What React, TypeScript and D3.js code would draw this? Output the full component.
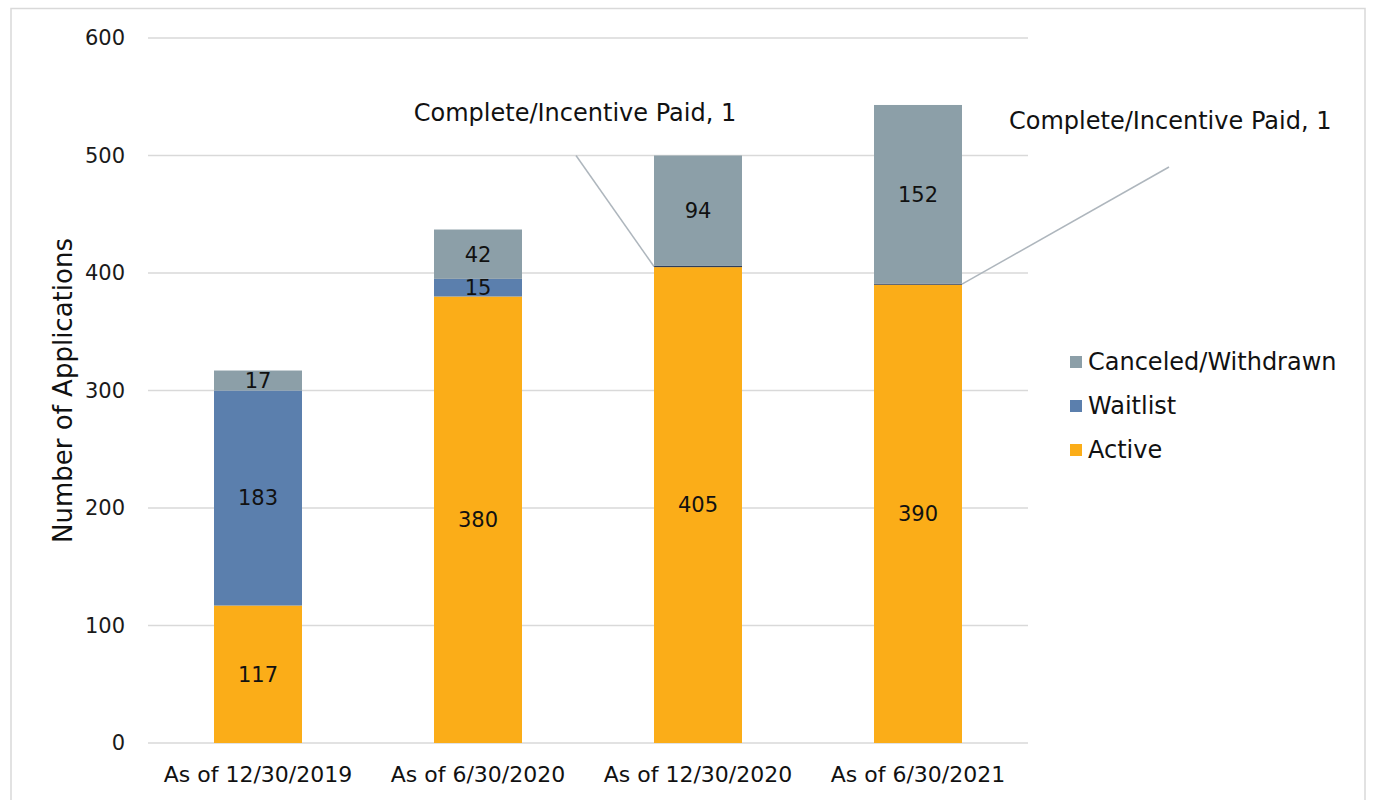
import React from "react";
import * as d3 from "d3";

const categories = ["As of 12/30/2019", "As of 6/30/2020", "As of 12/30/2020", "As of 6/30/2021"];
const active = [117, 380, 405, 390];
const waitlist = [183, 15, 0, 0];
const complete = [0, 0, 1, 1];
const canceled = [17, 42, 94, 152];
const yTicks = [0, 100, 200, 300, 400, 500, 600];

const seriesDefs = [
  { key: "active", name: "Active", values: active, color: "#FBAD18" },
  { key: "waitlist", name: "Waitlist", values: waitlist, color: "#5B7FAD" },
  { key: "complete", name: "Complete/Incentive Paid", values: complete, color: "#2F3E5A" },
  { key: "canceled", name: "Canceled/Withdrawn", values: canceled, color: "#8C9FA8" },
];
const legendOrder = ["canceled", "waitlist", "active"];

const FONT = "'Century Gothic', 'URW Gothic', 'DejaVu Sans', sans-serif";

export default function App() {
  const W = 1374, H = 800;
  const left = 148, right = 1028, top = 38, bottom = 743;
  const x = d3.scaleBand<string>().domain(categories).range([left, right]).paddingInner(0.6).paddingOuter(0.3);
  const y = d3.scaleLinear().domain([0, 600]).range([bottom, top]);

  const table = categories.map((c, i) => {
    const row: any = { cat: c };
    seriesDefs.forEach((s) => (row[s.key] = s.values[i]));
    return row;
  });
  const stacked = d3.stack<any>().keys(seriesDefs.map((s) => s.key))(table);

  const calloutIdx = [2, 3];
  const ci = seriesDefs.findIndex((s) => s.key === "complete");

  return (
    <svg width={W} height={H} style={{ position: "absolute", left: 0, top: 0, background: "#fff" }} fontFamily={FONT}>
      <rect x={11} y={8.5} width={1354} height={800} fill="#fff" stroke="#D9D9D9" strokeWidth={1.5} />
      {yTicks.map((t) => (
        <g key={t}>
          <line x1={left} x2={right} y1={y(t)} y2={y(t)} stroke="#D9D9D9" strokeWidth={1.5} />
          <text x={125} y={y(t)} dy="0.35em" textAnchor="end" fontSize={21} fill="#1a1a1a">{t}</text>
        </g>
      ))}
      {stacked.map((layer, li) => (
        <g key={layer.key}>
          {layer.map((d, i) => {
            const h = y(d[0]) - y(d[1]);
            if (h <= 0) return null;
            return (
              <rect key={i} x={x(categories[i])!} width={x.bandwidth()} y={y(d[1])} height={h}
                fill={seriesDefs[li].color} />
            );
          })}
        </g>
      ))}
      {stacked.map((layer, li) =>
        seriesDefs[li].key === "complete" ? null : (
          <g key={"l" + layer.key}>
            {layer.map((d, i) => {
              const v = d[1] - d[0];
              if (v <= 0) return null;
              return (
                <text key={i} x={x(categories[i])! + x.bandwidth() / 2} y={y((d[0] + d[1]) / 2)} dy="0.35em"
                  textAnchor="middle" fontSize={21} fill="#111">{v}</text>
              );
            })}
          </g>
        )
      )}
      {calloutIdx.map((i, k) => {
        const d = stacked[ci][i];
        const midY = y((d[0] + d[1]) / 2);
        const bx = x(categories[i])!;
        const label = `${seriesDefs[ci].name}, ${complete[i]}`;
        if (k === 0) {
          return (
            <g key={i}>
              <line x1={bx - 78} y1={y(500)} x2={bx} y2={midY} stroke="#AEB6BD" strokeWidth={1.5} />
              <text x={bx - 79} y={113} dy="0.35em" textAnchor="middle" fontSize={24} fill="#111">{label}</text>
            </g>
          );
        }
        const ex = bx + x.bandwidth();
        return (
          <g key={i}>
            <line x1={ex + 207} y1={167} x2={ex} y2={midY} stroke="#AEB6BD" strokeWidth={1.5} />
            <text x={ex + 47} y={121} dy="0.35em" textAnchor="start" fontSize={24} fill="#111">{label}</text>
          </g>
        );
      })}
      <text transform={`translate(63,${(top + bottom) / 2}) rotate(-90)`} dy="0.35em" textAnchor="middle" fontSize={26} fill="#111">
        Number of Applications
      </text>
      {categories.map((c) => (
        <text key={c} x={x(c)! + x.bandwidth() / 2} y={774} dy="0.35em" textAnchor="middle" fontSize={22} fill="#111">{c}</text>
      ))}
      {legendOrder.map((k, i) => {
        const s = seriesDefs.find((d) => d.key === k)!;
        const ly = 362 + i * 44;
        return (
          <g key={k}>
            <rect x={1070} y={ly - 6} width={12} height={12} fill={s.color} />
            <text x={1088} y={ly} dy="0.35em" fontSize={24} fill="#111">{s.name}</text>
          </g>
        );
      })}
    </svg>
  );
}
